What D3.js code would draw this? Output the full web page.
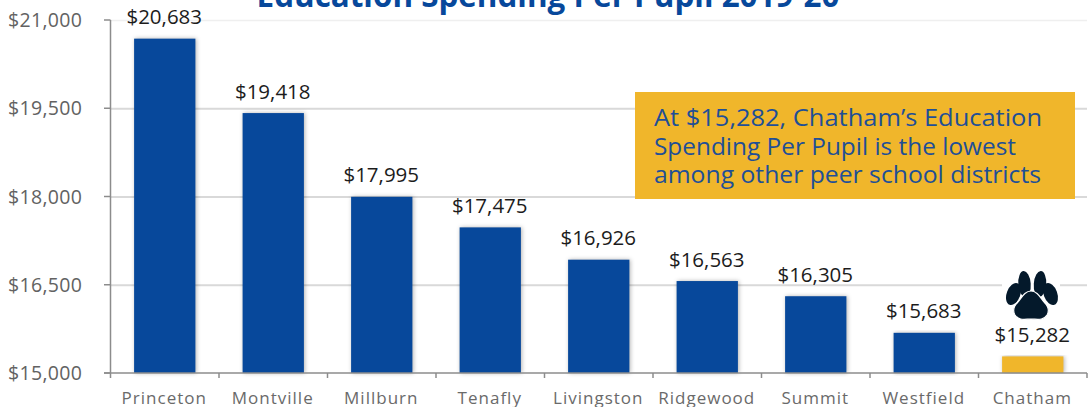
<!DOCTYPE html>
<html><head><meta charset="utf-8">
<script src="https://cdn.jsdelivr.net/npm/d3@7/dist/d3.min.js"></script>
<style>html,body{margin:0;padding:0;background:#fff;overflow:hidden}svg{display:block}text{font-family:"Open Sans","Lato",sans-serif}</style>
</head><body><svg id="c" width="1090" height="407"></svg>
<script>
const categories=["Princeton","Montville","Millburn","Tenafly","Livingston","Ridgewood","Summit","Westfield","Chatham"];
const values=[20683,19418,17995,17475,16926,16563,16305,15683,15282];
const yTicks=[15000,16500,18000,19500,21000];
const titleText="Education Spending Per Pupil 2019-20";
const noteLines=["At $15,282, Chatham\u2019s Education","Spending Per Pupil is the lowest","among other peer school districts"];
const noteWidths=[388,362,387];
const blue="#07489b",gold="#f0b62b";
const svg=d3.select("#c");
const defs=svg.append("defs");
const f=defs.append("filter").attr("id","sh").attr("x","-20%").attr("y","-5%").attr("width","140%").attr("height","110%").attr("color-interpolation-filters","sRGB");
f.append("feDropShadow").attr("dx",1).attr("dy",0).attr("stdDeviation",2).attr("flood-color","#000").attr("flood-opacity",.3);
const x=d3.scaleBand().domain(categories).range([110.5,1087]).paddingInner(.435).paddingOuter(.2175);
const y=d3.scaleLinear().domain([15000,21000]).range([373,20]);
const fmt=d3.format("$,");
// gridlines
svg.append("g").selectAll("line").data(yTicks.slice(1)).join("line")
 .attr("x1",110.5).attr("x2",1087).attr("y1",d=>y(d)+.5).attr("y2",d=>y(d)+.5)
 .attr("stroke",d=>d==21000?"#efefef":"#d9d9d9").attr("stroke-width",d=>d==21000?1.5:2);
// bars
svg.append("g").selectAll("rect").data(categories).join("rect")
 .attr("x",d=>x(d)).attr("width",x.bandwidth())
 .attr("y",(d,i)=>y(values[i])).attr("height",(d,i)=>y(15000)-y(values[i]))
 .attr("fill",d=>d=="Chatham"?gold:blue).attr("filter","url(#sh)");
// axes
const ax=svg.append("g").attr("stroke","#8c8c8c").attr("stroke-width",1.5);
ax.append("line").attr("x1",110.5).attr("x2",110.5).attr("y1",20).attr("y2",378);
ax.append("line").attr("x1",104).attr("x2",1087).attr("y1",373).attr("y2",373);
ax.selectAll(".yt").data(yTicks).join("line").attr("x1",104).attr("x2",110.5).attr("y1",d=>y(d)).attr("y2",d=>y(d));
const step=x.step();
ax.selectAll(".xt").data(d3.range(1,10)).join("line")
 .attr("x1",i=>110.5+i*step).attr("x2",i=>110.5+i*step).attr("y1",373).attr("y2",378);
// y labels
svg.append("g").selectAll("text").data(yTicks).join("text")
 .attr("x",82).attr("y",d=>y(d)+7).attr("text-anchor","end").attr("fill","#626262")
 .attr("font-size",19.5).attr("textLength",74).attr("lengthAdjust","spacing").text(fmt);
// x labels
svg.append("g").selectAll("text").data(categories).join("text")
 .attr("x",d=>x(d)+x.bandwidth()/2-.5).attr("y",404).attr("text-anchor","middle")
 .attr("fill","#6a6a6a").attr("font-size",17).style("letter-spacing","1px").text(d=>d);
// value labels
svg.append("g").selectAll("text").data(categories).join("text")
 .attr("x",d=>x(d)+x.bandwidth()/2-.5).attr("y",(d,i)=>y(values[i])-14.5).attr("text-anchor","middle")
 .attr("fill","#1c1c1c").attr("font-size",20.5).text((d,i)=>fmt(values[i]));
// title
svg.append("text").attr("x",548).attr("y",7).attr("text-anchor","middle").attr("fill",blue)
 .attr("font-size",31.4).attr("font-weight",700).text(titleText);
// note
svg.append("rect").attr("x",635).attr("y",92).attr("width",440).attr("height",107).attr("fill",gold);
svg.append("g").selectAll("text").data(noteLines).join("text")
 .attr("x",654).attr("y",(d,i)=>126+i*28.5).attr("fill","#1f4f96").attr("font-size",24.5)
 .attr("textLength",(d,i)=>noteWidths[i]).attr("lengthAdjust","spacingAndGlyphs").text(d=>d);
// paw
svg.append("rect").attr("x",1002).attr("y",280).attr("width",58).attr("height",12).attr("fill","#fff");
const paw=svg.append("g").attr("transform","translate(1031,293)").attr("fill","#04192b");
[[-17.5,1,6.8,11.5,20],[-6.5,-9,6.2,13,-4],[9,-9,6.2,13,4],[19.5,1,6.8,11.5,-20]].forEach(p=>{
 paw.append("ellipse").attr("rx",p[2]).attr("ry",p[3]).attr("transform",`translate(${p[0]},${p[1]}) rotate(${p[4]})`);
});
paw.append("path").attr("stroke","#fff").attr("stroke-width",1.2)
 .attr("d","M0,-2C6,-2 9,4 13,9C17,13 19,17 16,22C12,28 6,26 0,26C-6,26 -12,28 -16,22C-19,17 -17,13 -13,9C-9,4 -6,-2 0,-2Z");
</script></body></html>
